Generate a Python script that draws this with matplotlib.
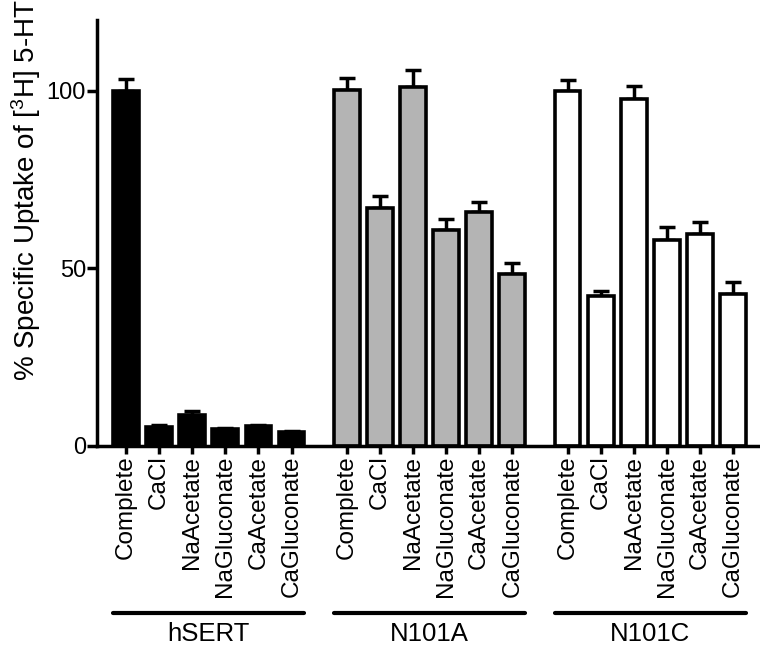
import numpy as np
import matplotlib as mpl
mpl.use('Agg')
import matplotlib.pyplot as plt
import matplotlib.transforms as mtransforms

mpl.rcParams['font.family'] = ['Liberation Sans', 'DejaVu Sans']

# data
conditions = ['Complete', 'CaCl', 'NaAcetate', 'NaGluconate', 'CaAcetate', 'CaGluconate']
groups = ['hSERT', 'N101A', 'N101C']
hsert = [100, 5.4, 8.7, 4.7, 5.7, 3.8]
hsert_err = [3.2, 0.4, 1.2, 0.4, 0.3, 0.4]
n101a = [100.2, 66.9, 101, 60.7, 65.9, 48.4]
n101a_err = [3.5, 3.5, 4.7, 3.1, 2.7, 3.2]
n101c = [100, 42.3, 97.8, 57.9, 59.6, 42.8]
n101c_err = [3.0, 1.3, 3.6, 3.6, 3.4, 3.3]

values = [hsert, n101a, n101c]
errors = [hsert_err, n101a_err, n101c_err]
colors = ['black', '#b4b4b4', 'white']

fig = plt.figure(figsize=(7.6, 6.46), dpi=100)
ax = fig.add_axes([0.1276, 0.3096, 0.87, 0.66])

group_step = 6.67
width = 0.78
xticks = []
xlabels = []
trans = mtransforms.blended_transform_factory(ax.transData, ax.transAxes)
for g in range(3):
    x = np.arange(6) + g * group_step
    ax.bar(x, values[g], width, color=colors[g], edgecolor='black', linewidth=2.6, zorder=2)
    ax.errorbar(x, values[g], yerr=[np.zeros(6), errors[g]], fmt='none', ecolor='black',
                elinewidth=2.5, capsize=6, capthick=2.5, zorder=1)
    xticks += list(x)
    xlabels += conditions
    # group bracket line
    ax.plot([x[0] - width / 2, x[-1] + width / 2], [-0.392, -0.392], color='black',
            linewidth=3, transform=trans, clip_on=False, solid_capstyle='round')
    ax.text((x[0] + x[-1]) / 2, -0.44, groups[g], transform=trans, ha='center', va='center',
            fontsize=18.5)

ax.set_xticks(xticks)
ax.set_xticklabels(xlabels, rotation=90, fontsize=17.5)
ax.set_xlim(-0.88, 19.1)
ax.set_ylim(0, 120)
ax.set_yticks([0, 50, 100])
ax.tick_params(axis='y', labelsize=17, width=2.5, length=7, pad=1)
ax.tick_params(axis='x', width=2.5, length=6, pad=1)
fig.text(0.035, 0.706, '% Specific Uptake of [$\\mathregular{^3}$H] 5-HT', rotation=90,
         ha='center', va='center', fontsize=20)

for s in ['top', 'right']:
    ax.spines[s].set_visible(False)
for s in ['left', 'bottom']:
    ax.spines[s].set_linewidth(2.5)

fig.savefig('out.png', dpi=100)
